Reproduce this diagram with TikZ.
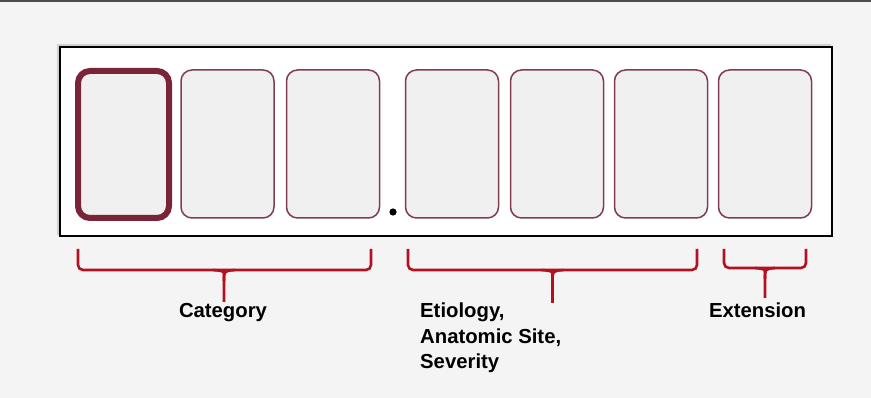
\documentclass[tikz,border=0pt]{standalone}
\usepackage{fontspec}
\setmainfont{Liberation Sans}
\usepackage{tikz}
\usetikzlibrary{arrows.meta}

\definecolor{wine}{RGB}{122,36,56}
\definecolor{winelight}{RGB}{128,62,78}
\definecolor{bracered}{RGB}{178,18,30}
\definecolor{slotfill}{RGB}{240,240,240}
\definecolor{pagebg}{RGB}{244,244,244}

\begin{document}
\begin{tikzpicture}[x=1pt, y=-1pt,
    slot/.style={draw=winelight, line width=1.5pt, fill=slotfill, rounded corners=11pt,
                 minimum width=93pt, minimum height=148pt, inner sep=0pt},
    firstslot/.style={slot, draw=wine, line width=6pt, rounded corners=12pt,
                 minimum width=91pt, minimum height=147pt},
    brace/.style={draw=bracered, line width=2.6pt, rounded corners=5pt},
    label/.style={font=\bfseries\fontsize{20.3}{25.5}\selectfont, inner sep=0pt}]
                \useasboundingbox (0, 0) rectangle (871, 398);
                \fill[pagebg] (0, 0) rectangle (871, 398);
                \draw[line width=2.5pt, color=black!70] (0, 1) -- (871, 1);

                % code frame
                \fill[black!18] (57, 44) rectangle (831, 235);
                \node[draw, line width=2pt, fill=white, minimum width=772pt, minimum height=189pt,
                      inner sep=0pt] (frame) at (446, 141.5) {};

                \node[firstslot] (c1) at (123.5, 144.5) {};
                \node[slot] (c2) at (227.5, 144) {};
                \node[slot] (c3) at (333, 144) {};
                \node[slot] (c4) at (452, 144) {};
                \node[slot] (c5) at (557, 144) {};
                \node[slot] (c6) at (661, 144) {};
                \node[slot] (c7) at (765, 144) {};
                \fill (393, 212) circle (3.6pt);

                \node[label, anchor=base] (cat) at (223, 318) {Category};
                \node[label, anchor=north west, align=left] (etio) at (420, 303)
                    {Etiology,\\Anatomic Site,\\Severity};
                \node[label, anchor=base] (ext) at (757.5, 318) {Extension};

                % braces
                \coordinate (catL) at (78, 249);
                \coordinate (catR) at (371, 249);
                \coordinate (catM) at (224, 270);
                \draw[brace] (catL) |- (catR |- catM) -- (catR);
                \draw[brace] (224, 302) -- (224, 281) .. controls (224, 271) .. (213, 270);
                \draw[brace, rounded corners=0pt] (224, 281) .. controls (224, 271) .. (235, 270);

                \coordinate (etioL) at (408, 249);
                \coordinate (etioR) at (697, 249);
                \draw[brace] (etioL) |- (etioR |- catM) -- (etioR);
                \draw[brace] (552.5, 303) -- (552.5, 281) .. controls (552.5, 271) .. (541.5, 270);
                \draw[brace, rounded corners=0pt] (552.5, 281) .. controls (552.5, 271) .. (563.5, 270);

                \coordinate (extL) at (724, 249);
                \coordinate (extR) at (806, 249);
                \draw[brace] (extL) |- (extR |- 0, 268) -- (extR);
                \draw[brace] (765, 298) -- (765, 279) .. controls (765, 269) .. (755, 268);
                \draw[brace, rounded corners=0pt] (765, 279) .. controls (765, 269) .. (775, 268);
            \end{tikzpicture}
\end{document}
